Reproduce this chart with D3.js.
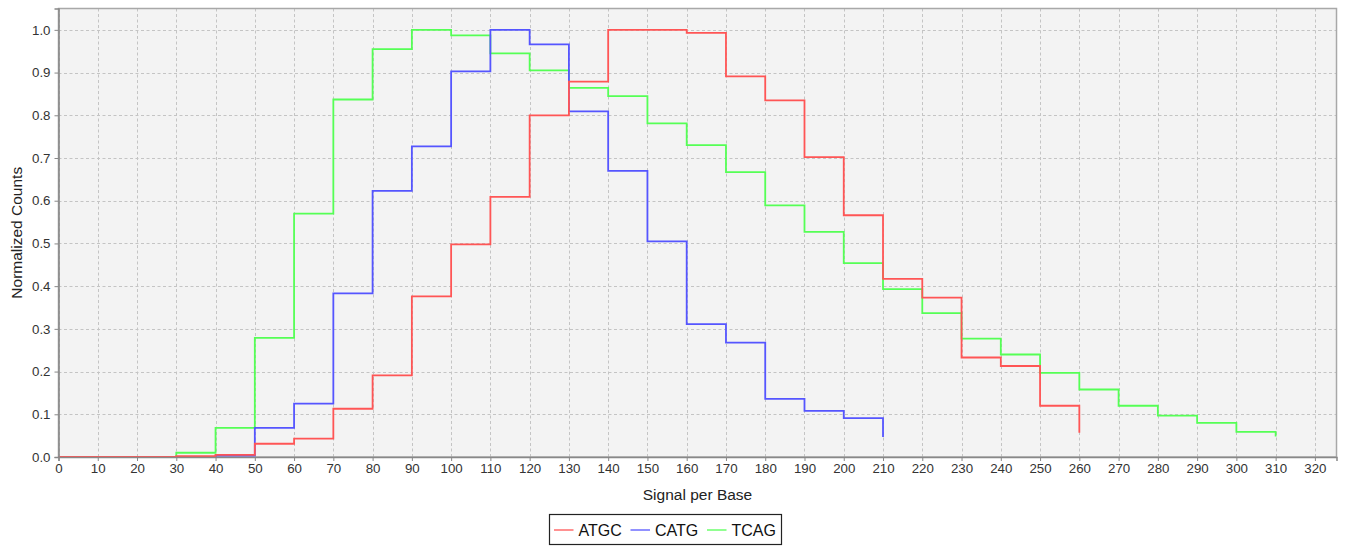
<!DOCTYPE html>
<html><head><meta charset="utf-8">
<script src="https://cdn.jsdelivr.net/npm/d3@7"></script>
<style>
html,body{margin:0;padding:0;background:#fff;}
svg{display:block;font-family:"Liberation Sans",Arial,sans-serif;}
</style></head>
<body><svg id="chart" width="1345" height="547"></svg>
<script>
const xValues = [0,10,20,30,40,50,60,70,80,90,100,110,120,130,140,150,160,170,180,190,200,210,220,230,240,250,260,270,280,290,300,310];
const seriesNames = ["ATGC","CATG","TCAG"];
const seriesColors = ["#ff5555","#5555ff","#55ff55"];
const atgc = [0,0,0,0.002,0.005,0.031,0.043,0.113,0.191,0.376,0.498,0.609,0.800,0.879,1.0,1.0,0.993,0.891,0.835,0.702,0.566,0.417,0.373,0.233,0.213,0.120,0.057];
const catg = [0,0,0,0,0.003,0.068,0.125,0.383,0.623,0.727,0.903,1.0,0.966,0.809,0.670,0.505,0.311,0.268,0.136,0.108,0.091,0.047];
const tcag = [0,0,0,0.010,0.068,0.279,0.570,0.837,0.955,1.0,0.987,0.945,0.905,0.864,0.845,0.781,0.730,0.667,0.589,0.527,0.454,0.393,0.337,0.277,0.240,0.197,0.158,0.120,0.097,0.080,0.059,0.048];
const xTicks = d3.range(0, 330, 10);
const yTicks = [0,0.1,0.2,0.3,0.4,0.5,0.6,0.7,0.8,0.9,1.0];
const xLabel = "Signal per Base";
const yLabel = "Normalized Counts";

const svg = d3.select("#chart");
const L = 58.5, R = 1336.5, T = 8.5, B = 457;
const x = d3.scaleLinear().domain([0, 325.5]).range([L, R]);
const y = d3.scaleLinear().domain([0, 1.05]).range([B, T]);

svg.append("rect").attr("x", L).attr("y", T).attr("width", R-L).attr("height", B-T)
  .attr("fill", "#f3f3f3");

// gridlines
const grid = svg.append("g").attr("stroke", "#c4c4c4").attr("stroke-width", 1).attr("stroke-dasharray", "3,2.5");
xTicks.forEach(t => grid.append("line").attr("x1", Math.round(x(t))+0.5).attr("x2", Math.round(x(t))+0.5).attr("y1", T).attr("y2", B));
yTicks.forEach(t => grid.append("line").attr("y1", Math.round(y(t))+0.5).attr("y2", Math.round(y(t))+0.5).attr("x1", L).attr("x2", R));

// plot border
svg.append("rect").attr("x", L).attr("y", T).attr("width", R-L).attr("height", B-T)
  .attr("fill", "none").attr("stroke", "#a8a8a8").attr("stroke-width", 1.5);

// series
const data = [atgc, catg, tcag];
const line = d3.line().x(d => x(d[0])).y(d => y(d[1])).curve(d3.curveStepAfter);
[2,1,0].forEach(i => {
  const pts = data[i].map((v, j) => [xValues[j], v]);
  svg.append("path").attr("d", line(pts)).attr("fill", "none")
    .attr("stroke", seriesColors[i]).attr("stroke-width", 1.8).attr("stroke-linejoin", "miter");
});

// axes
const xAxis = d3.axisBottom(x).tickValues(xTicks).tickSize(4).tickPadding(3).tickFormat(d3.format("d"));
const gx = svg.append("g").attr("transform", `translate(0,${B})`).call(xAxis);
const yAxis = d3.axisLeft(y).tickValues(yTicks).tickSize(4).tickPadding(4).tickFormat(d3.format(".1f"));
const gy = svg.append("g").attr("transform", `translate(${L},0)`).call(yAxis);
[gx, gy].forEach(g => {
  g.select(".domain").attr("stroke", "#888").attr("stroke-width", 1.5);
  g.selectAll(".tick line").attr("stroke", "#888");
  g.selectAll(".tick text").attr("fill", "#333").style("font-size", "13.3px").style("font-family", '"Liberation Sans",Arial,sans-serif');
});

svg.append("text").attr("x", (L+R)/2).attr("y", 500).attr("text-anchor", "middle")
  .style("font-size", "15.5px").attr("fill", "#222").text(xLabel);
svg.append("text").attr("transform", `translate(21.5,${(T+B)/2}) rotate(-90)`).attr("text-anchor", "middle")
  .style("font-size", "15.5px").attr("fill", "#222").text(yLabel);

// legend
const lg = svg.append("g");
lg.append("rect").attr("x", 549.5).attr("y", 514.5).attr("width", 232).attr("height", 30)
  .attr("fill", "#fff").attr("stroke", "#222").attr("stroke-width", 1.2);
const legX = [554, 630.5, 707];
seriesNames.forEach((n, i) => {
  lg.append("line").attr("x1", legX[i]).attr("x2", legX[i]+19.5).attr("y1", 530).attr("y2", 530)
    .attr("stroke", seriesColors[i]).attr("stroke-width", 1.3);
  lg.append("text").attr("x", legX[i]+24.5).attr("y", 536).style("font-size", "16px").attr("fill", "#111").text(n);
});
</script></body></html>
